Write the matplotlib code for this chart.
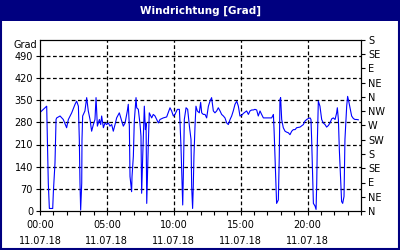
import matplotlib
matplotlib.use("Agg")
import matplotlib.pyplot as plt
from matplotlib.patches import Rectangle

# Stunde des Tages und Windrichtung in Grad
hours = [0.00, 0.50, 0.62, 0.70, 0.95, 1.00, 1.12, 1.20, 1.25, 1.50, 1.74, 1.99,
         2.12, 2.37, 2.62, 2.74, 2.87, 2.94, 2.99, 3.04, 3.12, 3.14, 3.19, 3.36,
         3.49, 3.61, 3.74, 3.86, 3.99, 4.11, 4.19, 4.29, 4.44, 4.54, 4.61, 4.74,
         4.86, 4.98, 5.11, 5.23, 5.36, 5.48, 5.61, 5.73, 5.93, 6.11, 6.23, 6.36,
         6.53, 6.60, 6.68, 6.73, 6.85, 6.88, 6.98, 7.05, 7.18, 7.23, 7.35, 7.48,
         7.55, 7.60, 7.68, 7.80, 7.88, 7.93, 7.98, 8.02, 8.10, 8.17, 8.35, 8.47,
         8.60, 8.85, 8.97, 9.22, 9.47, 9.72, 9.84, 9.97, 10.09, 10.27, 10.42, 10.47,
         10.54, 10.67, 10.72, 10.79, 10.92, 11.04, 11.17, 11.29, 11.34, 11.41, 11.46, 11.51,
         11.59, 11.66, 11.76, 11.91, 12.01, 12.09, 12.21, 12.34, 12.46, 12.59, 12.71, 12.83,
         12.96, 13.08, 13.21, 13.33, 13.46, 13.58, 13.71, 13.83, 13.96, 14.08, 14.21, 14.33,
         14.45, 14.58, 14.71, 14.83, 14.95, 15.08, 15.20, 15.33, 15.45, 15.58, 15.70, 15.83,
         15.95, 16.07, 16.20, 16.32, 16.45, 16.57, 16.70, 16.95, 17.20, 17.32, 17.45, 17.50,
         17.57, 17.64, 17.69, 17.82, 17.89, 17.94, 17.99, 18.07, 18.19, 18.32, 18.44, 18.57,
         18.69, 18.82, 18.94, 19.07, 19.19, 19.44, 19.69, 19.81, 19.94, 20.06, 20.19, 20.26,
         20.31, 20.44, 20.56, 20.64, 20.69, 20.74, 20.81, 20.93, 21.06, 21.18, 21.31, 21.43,
         21.56, 21.68, 21.81, 21.93, 22.06, 22.18, 22.23, 22.31, 22.38, 22.48, 22.55, 22.63,
         22.73, 22.80, 22.93, 23.00, 23.08, 23.18, 23.30, 23.43, 23.55, 23.68, 23.80]
grad = [311, 331, 88, 8, 8, 61, 151, 289, 294, 300, 289, 263,
        289, 310, 337, 347, 331, 226, 88, 3, 88, 226, 300, 316,
        358, 316, 289, 252, 273, 289, 358, 268, 289, 273, 300, 263,
        278, 273, 278, 268, 273, 252, 273, 294, 310, 284, 268, 278,
        316, 337, 268, 109, 61, 109, 173, 284, 358, 326, 321, 273,
        236, 56, 173, 331, 257, 278, 24, 88, 214, 310, 294, 305,
        300, 278, 289, 294, 297, 326, 316, 300, 305, 321, 321, 278,
        204, 19, 120, 289, 326, 321, 268, 226, 77, 8, 77, 173,
        268, 331, 316, 310, 343, 310, 305, 305, 294, 331, 347, 358,
        316, 310, 316, 326, 316, 305, 300, 294, 278, 273, 289, 300,
        316, 337, 347, 331, 300, 302, 308, 312, 316, 305, 316, 319,
        319, 321, 319, 300, 316, 305, 294, 294, 294, 294, 305, 257,
        173, 98, 24, 35, 173, 352, 358, 289, 263, 252, 249, 247,
        241, 252, 257, 257, 263, 265, 273, 284, 289, 292, 294, 289,
        226, 24, 16, 5, 88, 226, 347, 331, 289, 278, 273, 265,
        270, 278, 291, 294, 289, 310, 326, 289, 194, 98, 30, 24,
        46, 226, 331, 362, 347, 326, 300, 292, 289, 289, 288]

left_ticks = [0, 70, 140, 210, 280, 350, 420, 490]
right_ticks = [0, 45, 90, 135, 180, 225, 270, 315, 360, 405, 450, 495, 540]
right_labels = ["N", "NE", "E", "SE", "S", "SW", "W", "NW", "N", "NE", "E", "SE", "S"]
x_ticks = [0, 5, 10, 15, 20]
x_labels = ["00:00\n11.07.18", "05:00\n11.07.18", "10:00\n11.07.18",
            "15:00\n11.07.18", "20:00\n11.07.18"]

navy = "#000080"
plt.rcParams["font.family"] = "DejaVu Sans"
plt.rcParams["font.size"] = 7

fig = plt.figure(figsize=(4, 2.5), dpi=100)
fig.patch.set_facecolor("white")

# Titelleiste und Rahmen
fig.patches.append(Rectangle((0, 1 - 21 / 250), 1, 21 / 250, transform=fig.transFigure,
                             facecolor=navy, edgecolor="none", zorder=0))
fig.patches.append(Rectangle((0.002, 0.003), 0.995, 0.994, transform=fig.transFigure,
                             facecolor="none", edgecolor=navy, linewidth=1.5, zorder=1))
fig.text(0.5, 1 - 10.5 / 250, "Windrichtung [Grad]", color="white", fontweight="bold",
         fontsize=7.5, ha="center", va="center")

ax = fig.add_axes([40 / 400, 1 - 211 / 250, 321 / 400, 171 / 250])
ax.plot(hours, grad, color="#0000ff", linewidth=0.8)
ax.set_xlim(0, 24)
ax.set_ylim(0, 540)

ax.set_yticks(left_ticks)
ax.set_xticks(x_ticks)
ax.set_xticklabels(x_labels, linespacing=1.7)
ax.set_xticks(range(0, 25), minor=True)
ax.tick_params(axis="both", which="major", direction="out", length=3, width=0.8, pad=2)
ax.tick_params(axis="x", which="major", pad=3.5)
ax.tick_params(axis="x", which="minor", direction="out", length=3, width=0.8)

for v in left_ticks[1:]:
    ax.axhline(v, color="black", linewidth=0.9, linestyle=(0, (3, 2)), zorder=0)
for v in x_ticks[1:]:
    ax.axvline(v, color="black", linewidth=0.9, linestyle=(0, (3, 2)), zorder=0)

ax2 = ax.twinx()
ax2.set_ylim(0, 540)
ax2.set_yticks(right_ticks)
ax2.set_yticklabels(right_labels)
ax2.tick_params(axis="y", direction="out", length=3, width=0.8, pad=2)

fig.text(37 / 400, 1 - 45 / 250, "Grad", ha="right", va="center")

fig.savefig("out.png", dpi=100)
